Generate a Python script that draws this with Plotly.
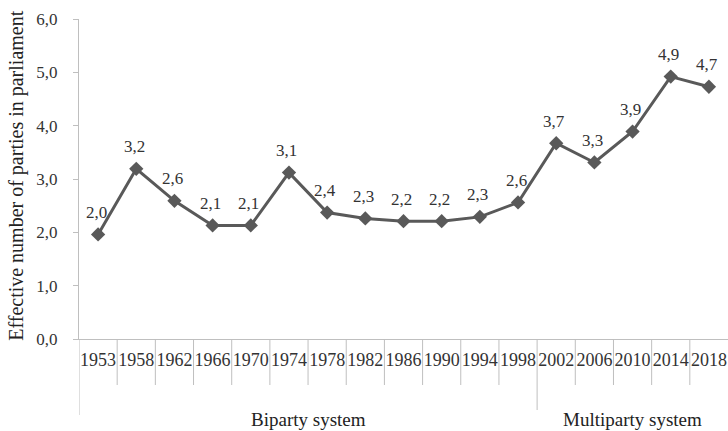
import plotly.graph_objects as go

years = ["1953", "1958", "1962", "1966", "1970", "1974", "1978", "1982", "1986",
         "1990", "1994", "1998", "2002", "2006", "2010", "2014", "2018"]
values = [1.96, 3.19, 2.59, 2.13, 2.13, 3.12, 2.37, 2.26, 2.21, 2.21, 2.29, 2.56,
          3.67, 3.31, 3.89, 4.92, 4.73]
labels = ["2,0", "3,2", "2,6", "2,1", "2,1", "3,1", "2,4", "2,3", "2,2", "2,2", "2,3",
          "2,6", "3,7", "3,3", "3,9", "4,9", "4,7"]
y_ticks = [0, 1, 2, 3, 4, 5, 6]
y_ticktext = ["0,0", "1,0", "2,0", "3,0", "4,0", "5,0", "6,0"]
groups = ["Biparty system", "Multiparty system"]
group_sizes = [12, 5]

FONT = "Liberation Serif"
TXT = "#333333"
LINE = "#595959"
AX = "#bfbfbf"

fig = go.Figure()
fig.add_trace(go.Scatter(
    x=list(range(len(years))), y=values, mode="lines+markers",
    line=dict(color=LINE, width=3),
    marker=dict(symbol="diamond", size=11, color=LINE),
    hoverinfo="skip", showlegend=False,
))

annotations = []
for i, (v, t) in enumerate(zip(values, labels)):
    annotations.append(dict(x=i, y=v, text=t, showarrow=False, xshift=-2, yshift=22,
                            font=dict(family=FONT, size=17, color=TXT)))

shapes = []
plot_h = 431 - 19 - 92
start = 0
bounds_long = set()
for gsz in group_sizes:
    bounds_long.add(start)
    start += gsz
for b in range(len(years)):
    long = b in bounds_long
    depth = 76 if b == 0 else (71 if long else 46)
    shapes.append(dict(type="line", xref="x", yref="paper", x0=b - 0.5, x1=b - 0.5,
                       y0=0, y1=-depth / plot_h, line=dict(color=AX, width=1)))

start = 0
for g, gsz in zip(groups, group_sizes):
    center = start + gsz / 2 - 0.5
    annotations.append(dict(x=center, y=-80 / plot_h, xref="x", yref="paper", text=g,
                            showarrow=False, yanchor="middle",
                            font=dict(family=FONT, size=19, color="#222222")))
    start += gsz

annotations.append(dict(x=-62 / 649, y=0.51, xref="paper", yref="paper",
                        text="Effective number of parties in parliament", textangle=-90,
                        showarrow=False, xanchor="center", yanchor="middle",
                        font=dict(family=FONT, size=20, color="#222222")))

fig.update_layout(
    width=728, height=431,
    margin=dict(l=79, r=0, t=19, b=92, autoexpand=False),
    plot_bgcolor="white", paper_bgcolor="white",
    xaxis=dict(range=[-0.5, len(years) - 0.5], tickmode="array", automargin=False,
               tickvals=list(range(len(years))), ticktext=years, ticklabelstandoff=4,
               showline=True, linecolor=AX, linewidth=1, ticks="", showgrid=False,
               zeroline=False, tickfont=dict(family=FONT, size=18, color=TXT)),
    yaxis=dict(range=[0, 6], tickmode="array", tickvals=y_ticks, ticktext=y_ticktext,
               automargin=False, ticklabelstandoff=12,
               showline=True, linecolor=AX, linewidth=1, ticks="outside", ticklen=5,
               tickcolor=AX, showgrid=False, zeroline=False,
               tickfont=dict(family=FONT, size=17, color=TXT)),
    annotations=annotations, shapes=shapes,
)
fig.write_html("out.html", config={"displayModeBar": False},
               post_script="document.body.style.margin='0';")
